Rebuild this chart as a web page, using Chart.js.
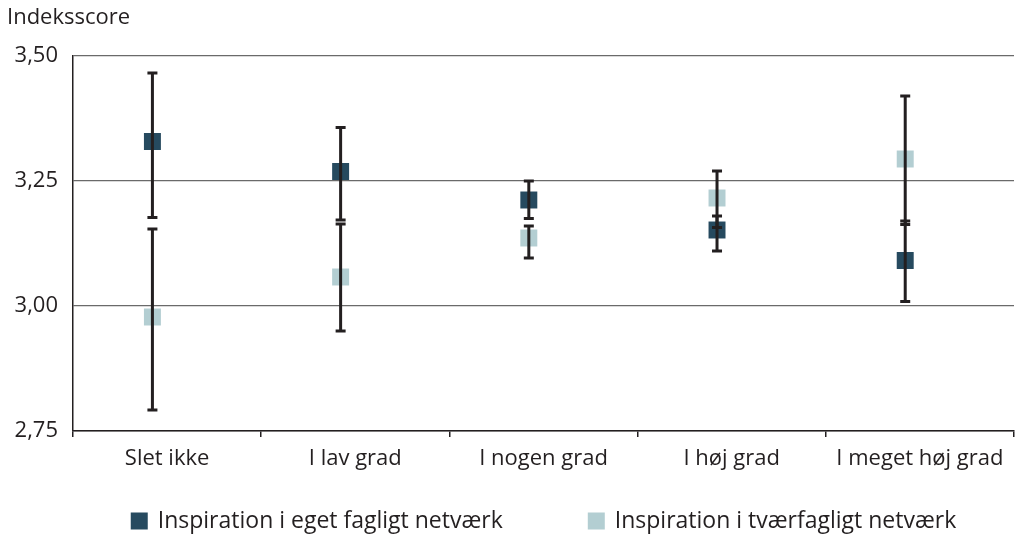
<!DOCTYPE html>
<html>
<head>
<meta charset="utf-8">
<script src="https://cdn.jsdelivr.net/npm/chart.js@4/dist/chart.umd.min.js"></script>
<style>
  html, body { margin: 0; padding: 0; background: #ffffff; overflow: hidden; }
  #wrap { width: 1015px; height: 536px; position: relative; }
</style>
</head>
<body>
<div id="wrap"><canvas id="chart"></canvas></div>
<script>
// Categories along the x axis
const categories = ['Slet ikke', 'I lav grad', 'I nogen grad', 'I høj grad', 'I meget høj grad'];

// Series: index score with lower/upper confidence bounds
const egetLabel = 'Inspiration i eget fagligt netværk';
const egetValues = [3.329, 3.269, 3.212, 3.152, 3.091];
const egetLower  = [3.177, 3.172, 3.175, 3.110, 3.009];
const egetUpper  = [3.466, 3.357, 3.250, 3.180, 3.170];

const tvaerLabel = 'Inspiration i tværfagligt netværk';
const tvaerValues = [2.978, 3.058, 3.136, 3.216, 3.294];
const tvaerLower  = [2.792, 2.950, 3.096, 3.157, 3.163];
const tvaerUpper  = [3.154, 3.164, 3.160, 3.270, 3.420];

// Y axis ticks
const yTicks = [2.75, 3.00, 3.25, 3.50];
const yTitle = 'Indeksscore';

const DARK = '#264a5f';
const LIGHT = '#b3ced2';
const INK = '#231f20';
const FONT = '"Open Sans", "Noto Sans", sans-serif';
const FONT_SIZE = 22;
const LEGEND_FONT_SIZE = 23;
const POINT_SHIFT = -0.078;

function toPoints(values) {
  return values.map((v, i) => ({ x: i + POINT_SHIFT, y: v }));
}

// Vertical confidence whiskers with end caps, drawn over the markers
const errorBars = {
  id: 'errorBars',
  afterDatasetsDraw(chart) {
    const ctx = chart.ctx;
    const y = chart.scales.y;
    ctx.save();
    ctx.strokeStyle = INK;
    ctx.lineWidth = 3;
    ctx.lineCap = 'butt';
    chart.data.datasets.forEach((ds, di) => {
      const meta = chart.getDatasetMeta(di);
      meta.data.forEach((pt, i) => {
        const x = pt.x;
        const yl = y.getPixelForValue(ds.lower[i]);
        const yh = y.getPixelForValue(ds.upper[i]);
        ctx.beginPath();
        ctx.moveTo(x, yl); ctx.lineTo(x, yh);
        ctx.moveTo(x - 5, yl); ctx.lineTo(x + 5, yl);
        ctx.moveTo(x - 5, yh); ctx.lineTo(x + 5, yh);
        ctx.stroke();
      });
    });
    ctx.restore();
  }
};

// Axis title above the y axis and the legend below the chart
const extraText = {
  id: 'extraText',
  afterDraw(chart) {
    const ctx = chart.ctx;
    const area = chart.chartArea;
    ctx.save();
    ctx.font = FONT_SIZE + 'px ' + FONT;
    ctx.fillStyle = INK;
    ctx.textBaseline = 'middle';
    ctx.textAlign = 'left';
    ctx.fillText(yTitle, 7, 18);

    ctx.font = LEGEND_FONT_SIZE + 'px ' + FONT;
    const box = 17, gapBox = 10, gapItem = 85;
    const items = chart.data.datasets.map(ds => ({
      label: ds.label, color: ds.backgroundColor,
      w: box + gapBox + ctx.measureText(ds.label).width
    }));
    const total = items.reduce((s, it) => s + it.w, 0) + gapItem * (items.length - 1);
    let x = (area.left + area.right) / 2 - total / 2;
    const yc = 521;
    items.forEach(it => {
      ctx.fillStyle = it.color;
      ctx.fillRect(x, yc - box / 2, box, box);
      ctx.fillStyle = INK;
      ctx.fillText(it.label, x + box + gapBox, yc);
      x += it.w + gapItem;
    });
    ctx.restore();
  }
};

new Chart(document.getElementById('chart'), {
  type: 'scatter',
  data: {
    labels: categories,
    datasets: [
      {
        label: egetLabel,
        data: toPoints(egetValues),
        lower: egetLower, upper: egetUpper,
        xAxisID: 'xPos',
        backgroundColor: DARK, borderColor: DARK, borderWidth: 0,
        pointStyle: 'rect', pointRadius: 12, pointHoverRadius: 12
      },
      {
        label: tvaerLabel,
        data: toPoints(tvaerValues),
        lower: tvaerLower, upper: tvaerUpper,
        xAxisID: 'xPos',
        backgroundColor: LIGHT, borderColor: LIGHT, borderWidth: 0,
        pointStyle: 'rect', pointRadius: 12, pointHoverRadius: 12
      }
    ]
  },
  options: {
    responsive: true,
    maintainAspectRatio: false,
    animation: false,
    layout: { autoPadding: false, padding: { left: 0, right: 1, top: 56, bottom: 0 } },
    plugins: {
      legend: { display: false },
      tooltip: { enabled: false },
      title: { display: false }
    },
    scales: {
      x: {
        type: 'category',
        labels: categories,
        offset: true,
        position: 'bottom',
        grid: { display: true, offset: true, drawOnChartArea: false, drawTicks: true, tickLength: 6, color: INK, lineWidth: 1.5 },
        border: { display: true, color: INK, width: 1.5 },
        ticks: { font: { family: FONT, size: FONT_SIZE }, color: INK, padding: 9, maxRotation: 0, autoSkip: false },
        afterFit(scale) {
          scale.height = 105;
          scale.paddingLeft = 0;
          scale.paddingRight = 0;
        }
      },
      xPos: {
        type: 'linear',
        display: false,
        min: -0.5, max: 4.5
      },
      y: {
        type: 'linear',
        min: yTicks[0], max: yTicks[yTicks.length - 1],
        afterBuildTicks(scale) { scale.ticks = yTicks.map(v => ({ value: v })); },
        grid: { color: '#6a6a6a', lineWidth: 1.3, drawTicks: false },
        border: { display: true, color: INK, width: 1.5 },
        ticks: {
          font: { family: FONT, size: FONT_SIZE }, color: INK, padding: 15,
          callback: v => v.toFixed(2).replace('.', ',')
        },
        afterFit(scale) {
          scale.width = 73;
          scale.paddingTop = 0;
          scale.paddingBottom = 0;
        }
      }
    }
  },
  plugins: [errorBars, extraText]
});
</script>
</body>
</html>
